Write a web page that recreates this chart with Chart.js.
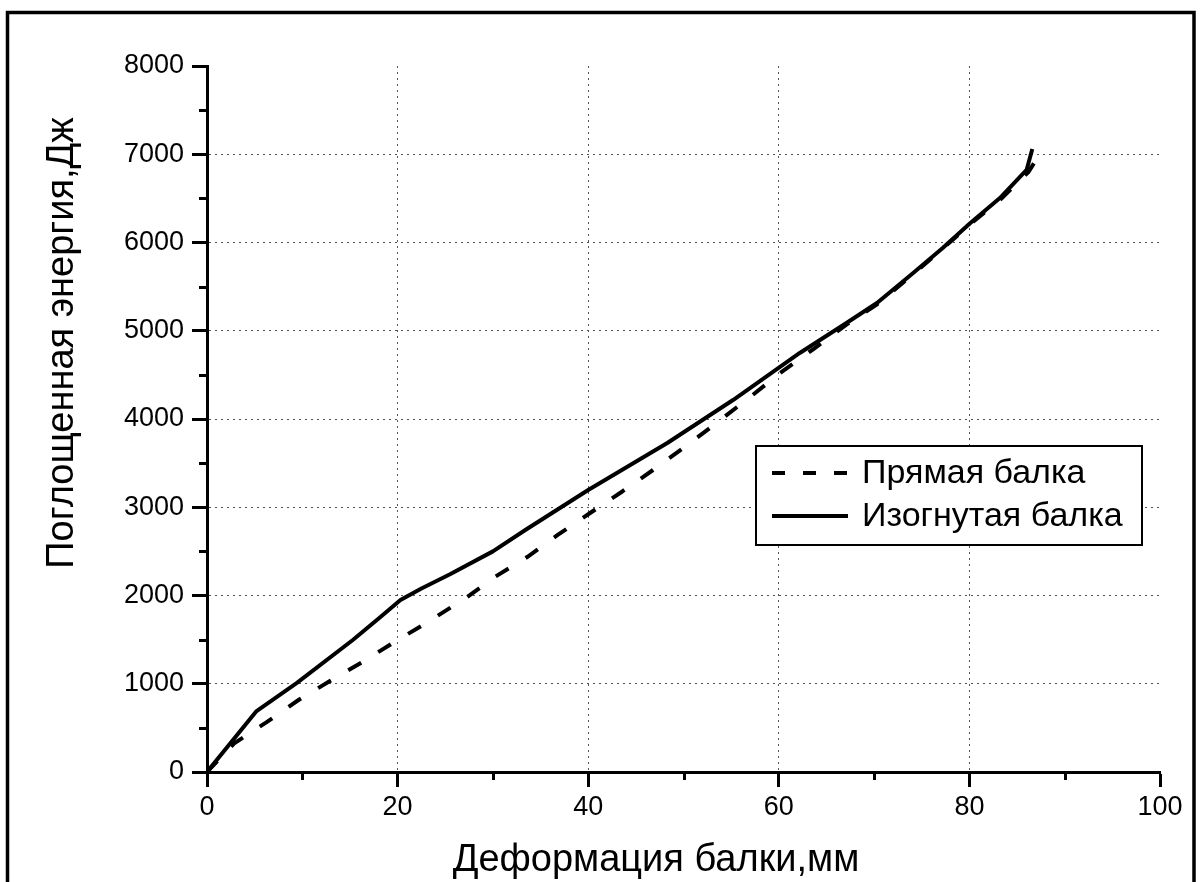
<!DOCTYPE html>
<html lang="ru">
<head>
<meta charset="utf-8">
<title>Поглощенная энергия</title>
<script src="https://cdn.jsdelivr.net/npm/chart.js@4.4.1/dist/chart.umd.min.js"></script>
<style>
    html, body { margin: 0; padding: 0; background: #fff; }
    #energyChart { display: block; }
</style>
</head>
<body>
<canvas id="energyChart" width="1200" height="882"></canvas>
<script>
// Straight beam: deformation (mm) and absorbed energy (J)
const straightX = [0, 2.9, 6.3, 9.6, 12.9, 16.3, 19.5, 23, 27.3, 30.2, 33.6, 36.8, 40.2, 43.5,
    46.8, 50.4, 53.6, 57, 60.3, 63.6, 67.1, 70.3, 74.1, 77.2, 80.1, 83.2, 86.2, 86.9];
const straightY = [0, 329, 567, 816, 1031, 1246, 1462, 1688, 1983, 2210, 2436, 2686, 2935, 3173,
    3422, 3705, 3966, 4250, 4533, 4790, 5070, 5300, 5640, 5930, 6210, 6480, 6800, 6920];

// Bent beam
const bentX = [0, 5.2, 9.4, 15.3, 18.2, 20.3, 22.5, 25.5, 30, 33.4, 40, 48.3, 55.2, 62.2,
    67.1, 70.3, 74.1, 77.2, 80.1, 83.2, 86.0, 86.6];
const bentY = [0, 691, 1008, 1496, 1756, 1949, 2080, 2240, 2500, 2742, 3195, 3728, 4215, 4748,
    5088, 5314, 5654, 5938, 6221, 6504, 6822, 7060];

const seriesLabels = ['Прямая балка', 'Изогнутая балка'];
const xTicks = [0, 20, 40, 60, 80, 100];
const yTicks = [0, 1000, 2000, 3000, 4000, 5000, 6000, 7000, 8000];
const xTitle = 'Деформация балки,мм';
const yTitle = 'Поглощенная энергия,Дж';

(() => {
    'use strict';

    const FONT = "Arial, 'Liberation Sans', sans-serif";

    function toPoints(xs, ys) {
        return xs.map((x, i) => ({ x: x, y: ys[i] }));
    }

    // Outer frame of the page, open at the bottom
    const framePlugin = {
        id: 'frame',
        beforeDraw(chart) {
            const ctx = chart.ctx;
            ctx.save();
            ctx.fillStyle = '#fff';
            ctx.fillRect(0, 0, chart.width, chart.height);
            ctx.strokeStyle = '#000';
            ctx.lineWidth = 3.5;
            ctx.beginPath();
            ctx.moveTo(7.5, chart.height + 5);
            ctx.lineTo(7.5, 12.5);
            ctx.lineTo(1194, 12.5);
            ctx.lineTo(1194, chart.height + 5);
            ctx.stroke();
            ctx.restore();
        }
    };

    // Short ticks half way between the labelled ones
    const minorTicksPlugin = {
        id: 'minorTicks',
        afterDraw(chart) {
            const ctx = chart.ctx;
            const xs = chart.scales.x;
            const ys = chart.scales.y;
            ctx.save();
            ctx.strokeStyle = '#000';
            ctx.lineWidth = 3;
            ctx.beginPath();
            for (let i = 1; i < xs.ticks.length; i++) {
                const px = Math.round(xs.getPixelForValue((xs.ticks[i - 1].value + xs.ticks[i].value) / 2)) + 0.5;
                ctx.moveTo(px, ys.bottom);
                ctx.lineTo(px, ys.bottom + 8);
            }
            for (let i = 1; i < ys.ticks.length; i++) {
                const py = Math.round(ys.getPixelForValue((ys.ticks[i - 1].value + ys.ticks[i].value) / 2)) + 0.5;
                ctx.moveTo(xs.left, py);
                ctx.lineTo(xs.left - 8, py);
            }
            ctx.stroke();
            ctx.restore();
        }
    };

    // Axis titles
    const axisTitlePlugin = {
        id: 'axisTitles',
        afterDraw(chart) {
            const ctx = chart.ctx;
            ctx.save();
            ctx.fillStyle = '#000';
            ctx.font = '38px ' + FONT;
            ctx.textAlign = 'center';
            ctx.textBaseline = 'middle';
            ctx.fillText(xTitle, 656, 861);
            ctx.translate(63, 343);
            ctx.rotate(-Math.PI / 2);
            ctx.fillText(yTitle, 0, 0);
            ctx.restore();
        }
    };

    // Boxed legend inside the plot
    const legendBoxPlugin = {
        id: 'legendBox',
        afterDraw(chart) {
            const ctx = chart.ctx;
            const box = { left: 756, top: 446, right: 1142, bottom: 545 };
            ctx.save();
            ctx.fillStyle = '#fff';
            ctx.fillRect(box.left, box.top, box.right - box.left, box.bottom - box.top);
            ctx.strokeStyle = '#000';
            ctx.lineWidth = 2;
            ctx.strokeRect(box.left, box.top, box.right - box.left, box.bottom - box.top);

            ctx.font = '34px ' + FONT;
            ctx.textBaseline = 'middle';
            ctx.textAlign = 'left';
            chart.data.datasets.forEach((ds, i) => {
                const y = 473 + i * 43;
                ctx.strokeStyle = ds.borderColor;
                ctx.lineWidth = ds.borderWidth;
                ctx.setLineDash(ds.borderDash ? [13, 18] : []);
                ctx.beginPath();
                ctx.moveTo(772, y);
                ctx.lineTo(848, y);
                ctx.stroke();
                ctx.setLineDash([]);
                ctx.fillStyle = '#000';
                ctx.fillText(ds.label, 862, y + 1);
            });
            ctx.restore();
        }
    };

    function gridColor(max) {
        return (c) => (c.tick && (c.tick.value === 0 || c.tick.value === max)) ? 'rgba(0,0,0,0)' : '#555';
    }

    const data = {
        datasets: [{
            label: seriesLabels[0],
            data: toPoints(straightX, straightY),
            borderColor: '#000',
            borderWidth: 4,
            borderDash: [15, 20],
            borderCapStyle: 'butt',
            pointRadius: 0,
            fill: false,
            tension: 0
        }, {
            label: seriesLabels[1],
            data: toPoints(bentX, bentY),
            borderColor: '#000',
            borderWidth: 4,
            borderCapStyle: 'butt',
            borderJoinStyle: 'round',
            pointRadius: 0,
            fill: false,
            tension: 0
        }]
    };

    const config = {
        type: 'line',
        data: data,
        options: {
            responsive: false,
            animation: false,
            layout: {
                padding: { left: 0, top: 66, right: 40, bottom: 0 }
            },
            plugins: {
                legend: { display: false },
                tooltip: { enabled: false }
            },
            scales: {
                x: {
                    type: 'linear',
                    min: 0,
                    max: 100,
                    afterBuildTicks: (scale) => {
                        scale.ticks = xTicks.map(v => ({ value: v }));
                    },
                    afterFit: (scale) => {
                        scale.height = 110;
                    },
                    ticks: {
                        color: '#000',
                        font: { family: FONT, size: 27 },
                        padding: 4,
                        maxRotation: 0,
                        callback: (value) => String(value)
                    },
                    grid: {
                        color: gridColor(100),
                        lineWidth: 1,
                        tickLength: 15,
                        tickWidth: 3,
                        tickColor: '#000',
                        tickBorderDash: []
                    },
                    border: {
                        display: true,
                        color: '#000',
                        width: 3,
                        dash: [2, 4]
                    }
                },
                y: {
                    type: 'linear',
                    min: 0,
                    max: 8000,
                    afterBuildTicks: (scale) => {
                        scale.ticks = yTicks.map(v => ({ value: v }));
                    },
                    afterFit: (scale) => {
                        scale.width = 207;
                    },
                    ticks: {
                        color: '#000',
                        font: { family: FONT, size: 27 },
                        padding: 8,
                        callback: (value) => String(value)
                    },
                    grid: {
                        color: gridColor(8000),
                        lineWidth: 1,
                        tickLength: 15,
                        tickWidth: 3,
                        tickColor: '#000',
                        tickBorderDash: []
                    },
                    border: {
                        display: true,
                        color: '#000',
                        width: 3,
                        dash: [2, 4]
                    }
                }
            }
        },
        plugins: [framePlugin, minorTicksPlugin, axisTitlePlugin, legendBoxPlugin]
    };

    // Draw Chart
    new Chart(document.getElementById('energyChart'), config);
})();
</script>
</body>
</html>
